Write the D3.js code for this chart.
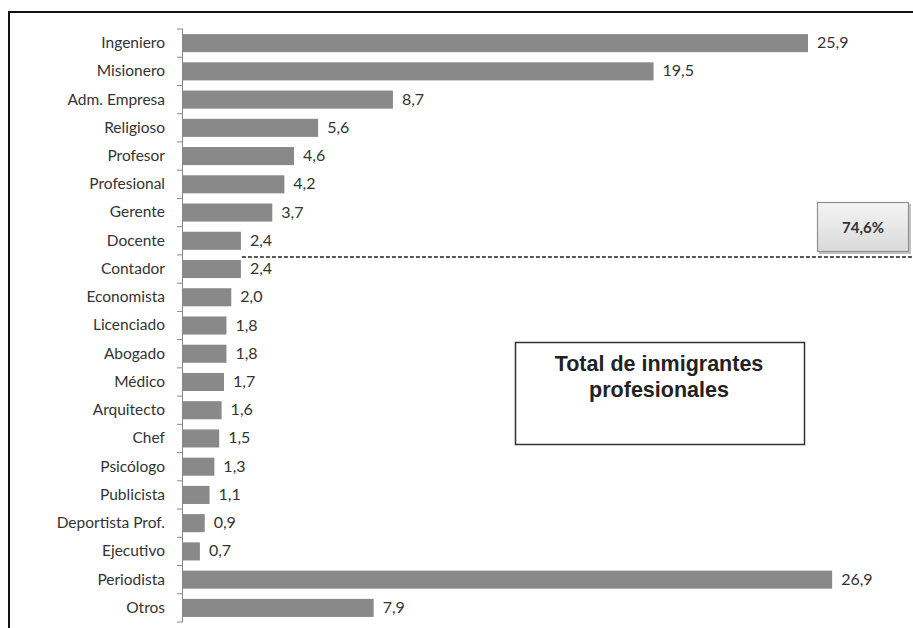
<!DOCTYPE html>
<html>
<head>
<meta charset="utf-8">
<script src="https://cdn.jsdelivr.net/npm/d3@7"></script>
<style>
  html, body { margin: 0; padding: 0; background: #fff; }
  svg { display: block; }
</style>
</head>
<body>
<svg id="chart" width="913" height="628"></svg>
<script>
// Profesiones de los inmigrantes (porcentaje del total)
const categories = [
  "Ingeniero", "Misionero", "Adm. Empresa", "Religioso", "Profesor", "Profesional",
  "Gerente", "Docente", "Contador", "Economista", "Licenciado", "Abogado", "Médico",
  "Arquitecto", "Chef", "Psicólogo", "Publicista", "Deportista Prof.", "Ejecutivo",
  "Periodista", "Otros"
];
const values = [
  25.9, 19.5, 8.7, 5.6, 4.6, 4.2, 3.7, 2.4, 2.4, 2.0, 1.8, 1.8, 1.7,
  1.6, 1.5, 1.3, 1.1, 0.9, 0.7, 26.9, 7.9
];
const cumulativeLabel = "74,6%";
const titleLines = ["Total de inmigrantes", "profesionales"];

const data = categories.map((c, i) => ({ name: c, value: values[i] }));

const svg = d3.select("#chart");
const fmt = d3.formatLocale({ decimal: ",", thousands: ".", grouping: [3], currency: ["", ""] }).format(".1f");

const x = d3.scaleLinear().domain([0, 25.9]).range([183, 808]);
const y = d3.scaleBand().domain(categories).range([29, 622])
  .paddingInner(0.36).paddingOuter(0.18);

const labelFont = "Lato, 'Open Sans', sans-serif";

// outer frame
svg.append("rect")
  .attr("x", 9).attr("y", 12).attr("width", 920).attr("height", 640)
  .attr("fill", "none").attr("stroke", "#111").attr("stroke-width", 2);

// bars
svg.append("g").selectAll("rect").data(data).join("rect")
  .attr("x", x(0))
  .attr("y", d => y(d.name))
  .attr("width", d => x(d.value) - x(0))
  .attr("height", y.bandwidth())
  .attr("fill", "#898989");

// value labels
svg.append("g").selectAll("text").data(data).join("text")
  .attr("x", d => x(d.value) + 9)
  .attr("y", d => y(d.name) + y.bandwidth() / 2 + 1)
  .attr("dominant-baseline", "middle")
  .attr("font-family", labelFont)
  .attr("font-size", 16)
  .attr("fill", "#333")
  .text(d => fmt(d.value));

// category axis with ticks on band boundaries
const axis = svg.append("g");
const step = y.step();
const off = step * y.paddingInner() / 2;
const bounds = categories.map(c => y(c) - off).concat([y(categories[categories.length - 1]) + y.bandwidth() + off]);
axis.append("line")
  .attr("x1", 182.5).attr("x2", 182.5)
  .attr("y1", bounds[0]).attr("y2", bounds[bounds.length - 1])
  .attr("stroke", "#888").attr("stroke-width", 1);
axis.selectAll("line.tick").data(bounds).join("line")
  .attr("class", "tick")
  .attr("x1", 177).attr("x2", 183)
  .attr("y1", d => d).attr("y2", d => d)
  .attr("stroke", "#888").attr("stroke-width", 1);
axis.selectAll("text").data(categories).join("text")
  .attr("x", 165)
  .attr("y", d => y(d) + y.bandwidth() / 2 + 1)
  .attr("text-anchor", "end")
  .attr("dominant-baseline", "middle")
  .attr("font-family", labelFont)
  .attr("font-size", 15.5)
  .attr("fill", "#333")
  .text(d => d);

// dashed cut line between Docente and Contador
const cutY = y("Contador") - off + 2;
svg.append("line")
  .attr("x1", x(values[categories.indexOf("Docente")]) + 1).attr("x2", 913)
  .attr("y1", cutY).attr("y2", cutY)
  .attr("stroke", "#222").attr("stroke-width", 1.5)
  .attr("stroke-dasharray", "4,2");

// cumulative share badge
const defs = svg.append("defs");
const grad = defs.append("linearGradient").attr("id", "badge").attr("x1", 0).attr("y1", 0).attr("x2", 0).attr("y2", 1);
grad.append("stop").attr("offset", "0%").attr("stop-color", "#f4f4f4");
grad.append("stop").attr("offset", "100%").attr("stop-color", "#dadada");
svg.append("rect")
  .attr("x", 819).attr("y", 204).attr("width", 92).attr("height", 50)
  .attr("fill", "#c4c4c4");
svg.append("rect")
  .attr("x", 817.5).attr("y", 202.5).attr("width", 91).attr("height", 49)
  .attr("fill", "url(#badge)").attr("stroke", "#8f8f8f").attr("stroke-width", 1.2);
svg.append("text")
  .attr("x", 863).attr("y", 229)
  .attr("text-anchor", "middle").attr("dominant-baseline", "middle")
  .attr("font-family", labelFont).attr("font-weight", "bold").attr("font-size", 15)
  .attr("fill", "#333")
  .text(cumulativeLabel);

// title box
svg.append("rect")
  .attr("x", 515.5).attr("y", 342.5).attr("width", 289).attr("height", 102)
  .attr("fill", "#fff").attr("stroke", "#333").attr("stroke-width", 1.5);
svg.append("g").selectAll("text").data(titleLines).join("text")
  .attr("x", 659)
  .attr("y", (d, i) => 371 + i * 26)
  .attr("text-anchor", "middle")
  .attr("font-family", "'Liberation Sans', Arial, sans-serif")
  .attr("font-weight", "bold").attr("font-size", 21.5)
  .attr("fill", "#222")
  .text(d => d);
</script>
</body>
</html>
